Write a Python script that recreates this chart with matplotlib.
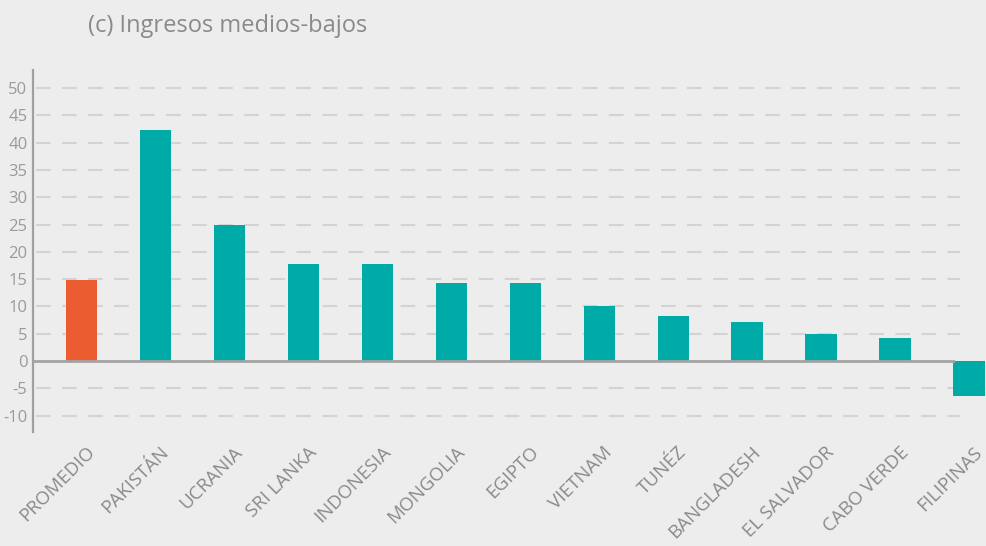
import matplotlib.pyplot as plt
from matplotlib.transforms import ScaledTranslation, blended_transform_factory

plt.rcParams['font.family'] = ['Open Sans', 'DejaVu Sans']
plt.rcParams['axes.unicode_minus'] = False

BG = '#ededed'
TEAL = '#00aaa6'
ORANGE = '#eb5c31'
TEXT = '#8a8a8a'

paises = ['PROMEDIO', 'PAKISTÁN', 'UCRANIA', 'SRI LANKA', 'INDONESIA', 'MONGOLIA',
          'EGIPTO', 'VIETNAM', 'TUNÉZ', 'BANGLADESH', 'EL SALVADOR', 'CABO VERDE',
          'FILIPINAS']
valores = [14.8, 42.3, 24.9, 17.8, 17.8, 14.3, 14.3, 10.1, 8.2, 7.1, 4.9, 4.2, -6.4]
yticks = list(range(-10, 55, 5))

fig = plt.figure(figsize=(9.86, 5.46), dpi=100, facecolor=BG)
ax = fig.add_axes([0.0335, 0.2088, 0.935, 0.663])
ax.set_facecolor(BG)

colores = [ORANGE] + [TEAL] * (len(paises) - 1)
x = list(range(len(paises)))
bars = ax.bar(x, valores, width=0.42, color=colores, zorder=3)
for b in bars:
    b.set_clip_on(False)

# dashed guide lines, solid zero line
for t in yticks:
    if t != 0:
        ax.axhline(t, xmin=0.003, xmax=1.005, color='#d3d3d3', lw=1.5,
                   dashes=(7, 5.5), zorder=1, clip_on=False)
ax.axhline(0, color='#a3a3a3', lw=2, zorder=4)

for s in ['top', 'right', 'bottom']:
    ax.spines[s].set_visible(False)
ax.spines['left'].set_color('#a0a0a0')
ax.spines['left'].set_linewidth(1.6)

ax.set_yticks(yticks)
ax.set_yticklabels([str(t) for t in yticks])
ax.tick_params(axis='y', length=0, pad=4, labelsize=12, labelcolor='#9a9a9a')
ax.set_xticks([])

ax.set_xlim(-0.65, 11.81)
ax.set_ylim(-13.0, 53.3)

# category names, rotated under each bar (last bar sits past the axis end)
trans = blended_transform_factory(ax.transData, ax.transAxes) + \
    ScaledTranslation(0.17, -0.11, fig.dpi_scale_trans)
for i, nombre in zip(x, paises):
    ax.text(i, 0, nombre, transform=trans, rotation=45, ha='right', va='top',
            fontsize=13.5, color=TEXT, clip_on=False)

fig.text(0.089, 0.952, '(c) Ingresos medios-bajos', fontsize=17, color=TEXT,
         ha='left', va='center')

fig.savefig('out.png', dpi=100, facecolor=BG)
